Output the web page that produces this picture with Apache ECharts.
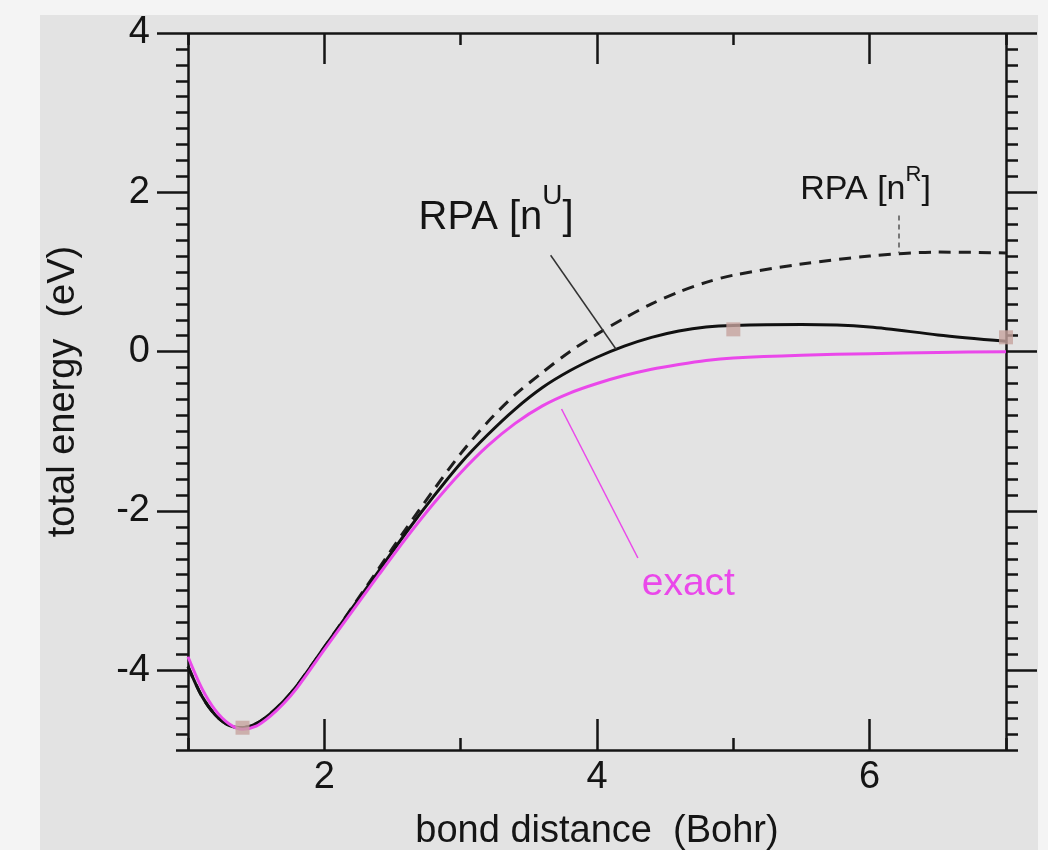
<!DOCTYPE html>
<html>
<head>
<meta charset="utf-8">
<script src="https://cdn.jsdelivr.net/npm/echarts@6/dist/echarts.min.js"></script>
<style>
  body { margin: 0; background: #f4f4f4; }
  .panel { position: absolute; left: 40px; top: 15px; width: 998px; height: 835px; background: #e3e3e3; }
  #chart { position: absolute; left: 0; top: 0; width: 1048px; height: 850px; }
</style>
</head>
<body>
<div class="panel"></div>
<div id="chart"></div>
<script>
// values (bond distance in Bohr, energy in eV)
const bondDistance = [1.0, 1.1, 1.2, 1.3, 1.4, 1.5, 1.6, 1.7, 1.8, 2.0, 2.2, 2.4, 2.6, 2.8, 3.0,
  3.2, 3.4, 3.6, 3.8, 4.0, 4.2, 4.4, 4.6, 4.8, 5.0, 5.5, 6.0, 6.5, 7.0];
const energyExact = [-3.83, -4.22, -4.5, -4.67, -4.74, -4.7, -4.58, -4.42, -4.22, -3.74, -3.27, -2.8, -2.34, -1.91, -1.52,
  -1.18, -0.9, -0.68, -0.52, -0.4, -0.3, -0.22, -0.16, -0.11, -0.08, -0.045, -0.025, -0.01, 0.0];
const energyRpaU = [-3.95, -4.32, -4.56, -4.69, -4.72, -4.67, -4.55, -4.39, -4.19, -3.71, -3.23, -2.75, -2.27, -1.82, -1.4,
  -1.04, -0.72, -0.45, -0.24, -0.07, 0.07, 0.18, 0.26, 0.31, 0.33, 0.34, 0.31, 0.21, 0.13];
const energyRpaR = [-3.95, -4.32, -4.56, -4.69, -4.72, -4.67, -4.55, -4.39, -4.19, -3.71, -3.22, -2.72, -2.22, -1.74, -1.28,
  -0.88, -0.54, -0.26, 0.0, 0.22, 0.42, 0.6, 0.75, 0.87, 0.96, 1.1, 1.2, 1.25, 1.24];
const markerDistance = [1.4, 5.0, 7.0];
const markerEnergy = [-4.72, 0.28, 0.18];
const xTickLabels = [2, 4, 6];
const yTickLabels = [-4, -2, 0, 2, 4];

const font = '"Liberation Sans", Arial, Helvetica, sans-serif';
const ink = "#151515";
const magenta = "#ea48ea";
const pair = (xs, ys) => xs.map((x, i) => [x, ys[i]]);

const lineStyle = { color: ink, width: 2.5, cap: "butt" };

function minorAxis(extra) {
  return Object.assign({
    type: "value",
    axisLine: { show: true, onZero: false, lineStyle },
    splitLine: { show: false },
    axisLabel: { show: false },
  }, extra);
}
function majorAxis(extra) {
  return Object.assign({
    type: "value",
    axisLine: { show: false, onZero: false },
    splitLine: { show: false },
    axisLabel: { show: false },
  }, extra);
}

const xRange = { min: 1, max: 7 };
const yRange = { min: -5, max: 4 };

// text label sitting at a data point (no visible symbol)
function textMark(coord, label) {
  return {
    silent: true,
    symbol: "circle",
    symbolSize: 1,
    itemStyle: { color: "transparent" },
    label: Object.assign({ show: true, position: "inside", fontFamily: font }, label),
    data: [{ coord }],
  };
}
function leader(from, to, style) {
  return {
    silent: true,
    symbol: ["none", "none"],
    label: { show: false },
    lineStyle: style,
    data: [[{ coord: from }, { coord: to }]],
  };
}

const option = {
  animation: false,
  grid: { left: 188, right: 42, top: 33, bottom: 100, outerBoundsMode: "none", containLabel: false },
  xAxis: [
    minorAxis({
      ...xRange,
      position: "bottom",
      interval: 1,
      axisTick: { inside: true, length: 12, lineStyle },
      axisLabel: {
        show: true,
        customValues: xTickLabels,
        margin: 9,
        fontSize: 38,
        color: ink,
        fontFamily: font,
      },
      name: "bond distance  (Bohr)",
      nameLocation: "middle",
      nameGap: 63,
      nameTextStyle: { fontSize: 38, color: ink, fontFamily: font },
    }),
    majorAxis({
      ...xRange,
      position: "bottom",
      axisTick: { inside: true, length: 31, customValues: xTickLabels, lineStyle },
    }),
    minorAxis({
      ...xRange,
      position: "top",
      interval: 1,
      axisTick: { inside: true, length: 12, lineStyle },
    }),
    majorAxis({
      ...xRange,
      position: "top",
      axisTick: { inside: true, length: 31, customValues: xTickLabels, lineStyle },
    }),
  ],
  yAxis: [
    minorAxis({
      ...yRange,
      position: "left",
      interval: 0.2,
      axisTick: { inside: false, length: 12, lineStyle },
      axisLabel: {
        show: true,
        customValues: yTickLabels,
        margin: 38,
        fontSize: 38,
        color: ink,
        fontFamily: font,
      },
      name: "total energy  (eV)",
      nameLocation: "middle",
      nameRotate: 90,
      nameGap: 105,
      nameTextStyle: { fontSize: 38, color: ink, fontFamily: font },
    }),
    majorAxis({
      ...yRange,
      position: "left",
      axisTick: { inside: false, length: 31, customValues: yTickLabels, lineStyle },
    }),
    minorAxis({
      ...yRange,
      position: "right",
      interval: 0.2,
      axisTick: { inside: false, length: 12, lineStyle },
    }),
    majorAxis({
      ...yRange,
      position: "right",
      axisTick: { inside: false, length: 31, customValues: yTickLabels, lineStyle },
    }),
  ],
  series: [
    {
      name: "RPA [nR]",
      type: "line",
      data: pair(bondDistance, energyRpaR),
      showSymbol: false,
      smooth: 0.3,
      lineStyle: { color: "#1e1e1e", width: 3, type: [12, 8] },
      markLine: leader([6.21, 1.71], [6.21, 1.24], { color: "#555", width: 1.5, type: [5, 4] }),
      markPoint: textMark([5.97, 2.03], {
        formatter: "{m|RPA [n}{s|R}{m|]}",
        rich: {
          m: { fontSize: 34, lineHeight: 52, color: ink, fontFamily: font },
          s: { fontSize: 22, lineHeight: 21, verticalAlign: "top", color: ink, fontFamily: font },
        },
      }),
    },
    {
      name: "RPA [nU]",
      type: "line",
      data: pair(bondDistance, energyRpaU),
      showSymbol: false,
      smooth: 0.3,
      lineStyle: { color: "#111", width: 3 },
      markLine: leader([3.66, 1.21], [4.14, 0.03], { color: "#333", width: 1.5, type: "solid" }),
      markPoint: textMark([3.26, 1.68], {
        formatter: "{m|RPA [n}{s|U}{m|]}",
        rich: {
          m: { fontSize: 40, lineHeight: 72, color: ink, fontFamily: font },
          s: { fontSize: 28, lineHeight: 26, verticalAlign: "top", color: ink, fontFamily: font },
        },
      }),
    },
    {
      name: "exact",
      type: "line",
      data: pair(bondDistance, energyExact),
      showSymbol: false,
      smooth: 0.3,
      lineStyle: { color: magenta, width: 3 },
      markLine: leader([3.74, -0.72], [4.3, -2.59], { color: magenta, width: 1.5, type: "solid" }),
      markPoint: textMark([4.67, -2.92], { formatter: "exact", fontSize: 39, color: magenta }),
    },
    {
      type: "scatter",
      data: pair(markerDistance, markerEnergy),
      symbol: "rect",
      symbolSize: 14,
      itemStyle: { color: "#c5a29e" },
      z: 5,
    },
  ],
};

const chart = echarts.init(document.getElementById("chart"));
chart.setOption(option);
</script>
</body>
</html>
